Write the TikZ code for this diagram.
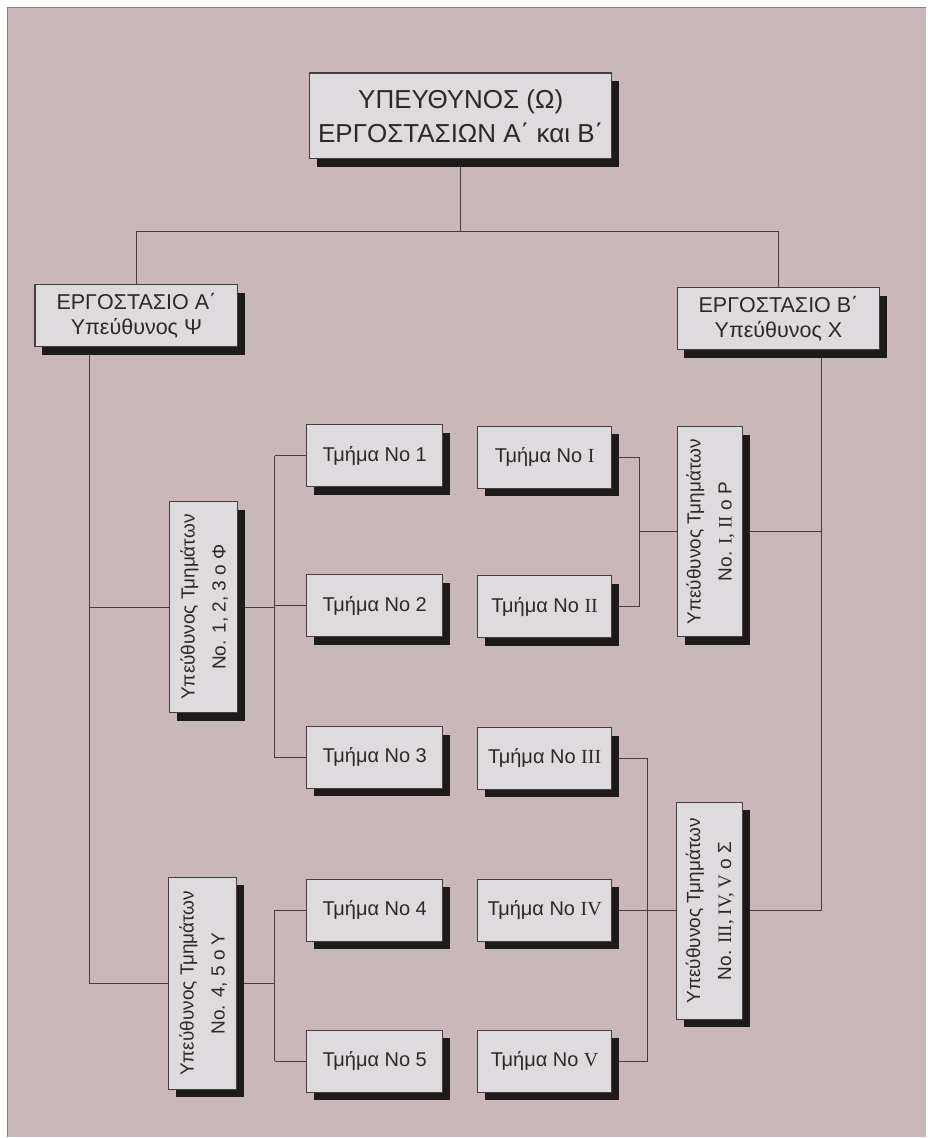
\documentclass[tikz,border=0pt]{standalone}
\usepackage{fontspec}
\setmainfont{Liberation Sans}
\newfontfamily\rn{Liberation Serif}
\usetikzlibrary{shadows}
\definecolor{bgc}{RGB}{201,183,186}
\definecolor{boxc}{RGB}{222,219,222}
\definecolor{shadowc}{RGB}{30,26,26}
\definecolor{linec}{RGB}{70,62,62}
\definecolor{textc}{RGB}{45,40,40}
\definecolor{edgec}{RGB}{172,112,112}
\pgfdeclarelayer{bg}
\pgfdeclarelayer{wires}
\pgfsetlayers{bg,wires,main}
\tikzset{
  box/.style={draw=linec, line width=1.1pt, fill=boxc, inner sep=0pt, text=textc, align=center,
    drop shadow={shadow xshift=7pt, shadow yshift=-8pt, fill=shadowc, opacity=1}},
  topbox/.style={box, minimum width=302pt, minimum height=86pt, font=\fontsize{26}{34}\selectfont},
  fabbox/.style={box, minimum width=203pt, minimum height=62pt, font=\fontsize{21.5}{25}\selectfont},
  dept/.style={box, minimum width=136pt, minimum height=62pt, font=\fontsize{20}{24}\selectfont},
  headbox/.style={box, minimum width=67pt, minimum height=212pt, font=\fontsize{19}{31}\selectfont},
  conn/.style={draw=linec, line width=1.1pt}
}
\newcommand{\rot}[1]{\rotatebox{90}{\begin{tabular}{@{}c@{}}#1\end{tabular}}}
\begin{document}
\begin{tikzpicture}[x=1pt,y=-1pt]
\begin{pgfonlayer}{bg}
\fill[white] (0,0) rectangle (927,1138);
\fill[bgc] (7,7) rectangle (927,1138);
\draw[edgec, line width=1.5pt] (7.5,1138) -- (7.5,7.5) -- (927,7.5);
\end{pgfonlayer}
\useasboundingbox (0,0) rectangle (927,1138);

% nodes
\node[topbox] (top) at (461,116) {ΥΠΕΥΘΥΝΟΣ (Ω)\\ΕΡΓΟΣΤΑΣΙΩΝ Α΄ και Β΄};
\node[fabbox] (A) at (136.5,316) {ΕΡΓΟΣΤΑΣΙΟ Α΄\\Υπεύθυνος Ψ};
\node[fabbox] (B) at (779,319) {ΕΡΓΟΣΤΑΣΙΟ Β΄\\Υπεύθυνος Χ};

\node[headbox, minimum width=68pt, minimum height=211pt] (Phi) at (204,607.5) {\rot{Υπεύθυνος Τμημάτων\\No. 1, 2, 3 ο Φ}};
\node[headbox, minimum width=68pt, minimum height=212pt] (Ups) at (203,984) {\rot{Υπεύθυνος Τμημάτων\\No. 4, 5 ο Υ}};
\node[headbox, minimum width=65pt, minimum height=210pt] (Rho) at (710.5,532) {\rot{Υπεύθυνος Τμημάτων\\No. {\rn I, II} ο Ρ}};
\node[headbox, minimum width=66pt, minimum height=217pt] (Sig) at (710,911.5) {\rot{Υπεύθυνος Τμημάτων\\No. {\rn III, IV, V} ο Σ}};

\node[dept] (t1) at (375,456) {Τμήμα No 1};
\node[dept] (t2) at (375,606) {Τμήμα No 2};
\node[dept] (t3) at (375,758) {Τμήμα No 3};
\node[dept] (t4) at (375,911) {Τμήμα No 4};
\node[dept] (t5) at (375,1062) {Τμήμα No 5};
\node[dept, minimum width=134pt] (tI) at (545,457.5) {Τμήμα No {\rn I}};
\node[dept, minimum width=134pt] (tII) at (545,607) {Τμήμα No {\rn II}};
\node[dept, minimum width=134pt] (tIII) at (545,759) {Τμήμα No {\rn III}};
\node[dept, minimum width=134pt] (tIV) at (545,911) {Τμήμα No {\rn IV}};
\node[dept, minimum width=134pt] (tV) at (545,1062) {Τμήμα No {\rn V}};

% connector guide coordinates
\coordinate (bar) at (0,232);
\coordinate (lt) at (90,0);
\coordinate (m1) at (275,0);
\coordinate (r1) at (640,0);
\coordinate (r2) at (648,0);
\coordinate (rt) at (822,0);

\begin{pgfonlayer}{wires}
\draw[conn] (top.south) -- (top.south |- bar);
\draw[conn] (A.north) -- (A.north |- bar) -- (B.north |- bar) -- (B.north);
% left trunk
\draw[conn] (lt |- A.south) -- (lt |- Ups) -- (Ups);
\draw[conn] (lt |- Phi) -- (Phi);
% Phi branch
\draw[conn] (Phi) -- (m1 |- Phi);
\draw[conn] (m1 |- t1) -- (m1 |- t3);
\draw[conn] (m1 |- t1) -- (t1);
\draw[conn] (m1 |- t2) -- (t2);
\draw[conn] (m1 |- t3) -- (t3);
% Ups branch
\draw[conn] (Ups) -- (m1 |- Ups);
\draw[conn] (m1 |- t4) -- (m1 |- t5);
\draw[conn] (m1 |- t4) -- (t4);
\draw[conn] (m1 |- t5) -- (t5);
% right side
\draw[conn] (tI) -- (r1 |- tI) -- (r1 |- tII) -- (tII);
\draw[conn] (r1 |- Rho) -- (Rho);
\draw[conn] (tIII) -- (r2 |- tIII) -- (r2 |- tV) -- (tV);
\draw[conn] (r2 |- tIV) -- (tIV);
\draw[conn] (r2 |- Sig) -- (Sig);
% right trunk
\draw[conn] (rt |- B.south) -- (rt |- Sig) -- (Sig);
\draw[conn] (Rho) -- (rt |- Rho);
\end{pgfonlayer}
\end{tikzpicture}
\end{document}
